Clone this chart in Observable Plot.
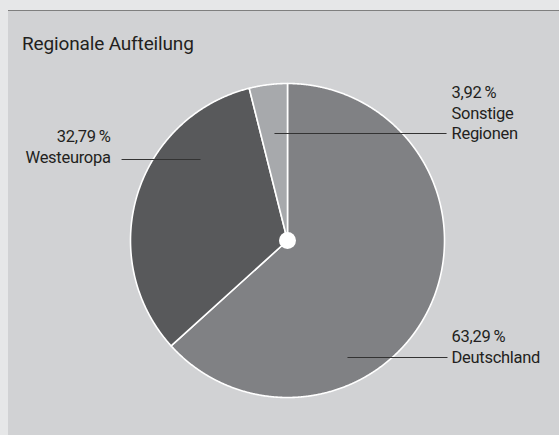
<!DOCTYPE html>
<html><head><meta charset="utf-8">
<script src="https://cdn.jsdelivr.net/npm/d3@7"></script>
<script src="https://cdn.jsdelivr.net/npm/@observablehq/plot@0.6"></script>
<style>
html,body{margin:0;padding:0;width:559px;height:435px;overflow:hidden;background:#e6e7e8;font-family:Roboto,sans-serif;}
#panel{position:absolute;left:8px;top:10px;width:551px;height:425px;background:#d1d2d4;border-top:1px solid #7f7f7f;}
#title{position:absolute;left:22px;top:32px;font-size:19px;line-height:24px;letter-spacing:-0.15px;color:#231f20;}
#chart{position:absolute;left:0;top:0;}
</style></head><body>
<div id="panel"></div>
<div id="title">Regionale Aufteilung</div>
<div id="chart"></div>
<script>
// Data
const regions = ["Deutschland", "Westeuropa", "Sonstige Regionen"];
const shares = [63.29, 32.79, 3.92];
const sliceColors = ["#808184", "#58595b", "#a7a9ac"];

// Label layout (data units, pie radius = 1)
const labelLayout = [
  {name: "Deutschland", tx: 1.045, ty: -0.611, anchor: "start", lx1: 0.382, lx2: 1.019, ly: -0.745},
  {name: "Westeuropa", tx: -1.127, ty: 0.662, anchor: "end", lx1: -1.057, lx2: -0.554, ly: 0.516},
  {name: "Sonstige Regionen", tx: 1.045, ty: 0.943, anchor: "start", lx1: -0.083, lx2: 1.013, ly: 0.682}
];

const R = 157, cx = 287, cy = 240;
const lineStep = 20.8 / R;

// slice polygons (geometry from shares)
const total = d3.sum(shares);
const pts = [];
let acc = 0;
regions.forEach((name, i) => {
  const a0 = acc / total * 2 * Math.PI;
  acc += shares[i];
  const a1 = acc / total * 2 * Math.PI;
  const n = Math.max(2, Math.ceil((a1 - a0) / 0.005));
  pts.push({name, x: 0, y: 0});
  for (let k = 0; k <= n; k++) {
    const t = a0 + (a1 - a0) * k / n;
    pts.push({name, x: Math.sin(t), y: Math.cos(t)});
  }
});

const fmt = v => v.toFixed(2).replace(".", ",") + "\u2009%";
const textLines = [];
labelLayout.forEach(l => {
  const i = regions.indexOf(l.name);
  const lines = [fmt(shares[i]), ...l.name.split(" ")];
  lines.forEach((s, j) => textLines.push({text: s, x: l.tx, y: l.ty - j * lineStep, anchor: l.anchor}));
});

const chart = Plot.plot({
  width: 559,
  height: 435,
  margin: 0,
  style: {background: "transparent", fontFamily: "Roboto, sans-serif", letterSpacing: "-0.3px"},
  x: {domain: [-1, 1], range: [cx - R, cx + R], axis: null},
  y: {domain: [-1, 1], range: [cy + R, cy - R], axis: null},
  color: {domain: regions, range: sliceColors},
  marks: [
    Plot.line(pts, {x: "x", y: "y", z: "name", fill: "name", stroke: "white", strokeWidth: 1.6, curve: "linear-closed"}),
    Plot.link(labelLayout, {x1: "lx1", x2: "lx2", y1: "ly", y2: "ly", stroke: "#333333", strokeWidth: 1.1}),
    Plot.dot([{x: 0, y: 0}], {x: "x", y: "y", r: 8.5, fill: "white", stroke: "none"}),
    Plot.text(textLines.filter(d => d.anchor === "start"), {x: "x", y: "y", text: "text", textAnchor: "start", fontSize: 16.5, fill: "#231f20"}),
    Plot.text(textLines.filter(d => d.anchor === "end"), {x: "x", y: "y", text: "text", textAnchor: "end", fontSize: 16.5, fill: "#231f20"})
  ]
});
document.getElementById("chart").appendChild(chart);
</script>
</body></html>
